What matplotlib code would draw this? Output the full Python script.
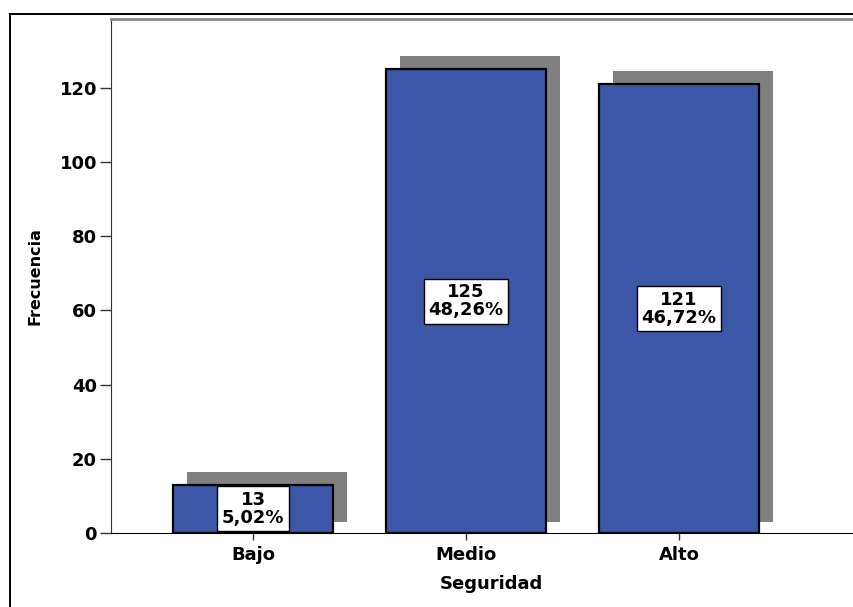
import matplotlib.pyplot as plt
from matplotlib.patches import Rectangle

# ==============================
# DATOS
# ==============================
categorias = ["Bajo", "Medio", "Alto"]
frecuencias = [13, 125, 121]
ticks_y = [0, 20, 40, 60, 80, 100, 120]

AZUL = "#3c56a8"
SOMBRA = "#808080"

plt.rcParams["font.family"] = ["DejaVu Sans"]
plt.rcParams["font.weight"] = "bold"

total = sum(frecuencias)
porcentajes = [f / total * 100 for f in frecuencias]

# ==============================
# FIGURA
# ==============================
fig = plt.figure(figsize=(8.54, 6.07), dpi=100)
W, H = 854, 607

# marco exterior
fig.patches.append(Rectangle((10 / W, -0.1), 1.0, 1 - 14 / H + 0.1,
                             transform=fig.transFigure, fill=False,
                             edgecolor="black", linewidth=1.4))

ax = fig.add_axes([111 / W, (H - 533) / H, 760 / W, (533 - 19) / H])

ancho = 0.75
dx, dy0, dy1 = 0.066, 3.0, 3.5
for i, f in enumerate(frecuencias):
    # sombra desplazada
    ax.add_patch(Rectangle((i - ancho / 2 + dx, dy0), ancho, f + dy1 - dy0,
                           facecolor=SOMBRA, edgecolor="none", zorder=1))
ax.bar(range(len(categorias)), frecuencias, width=ancho, color=AZUL,
       edgecolor="black", linewidth=1.6, zorder=2)

for i, (f, p) in enumerate(zip(frecuencias, porcentajes)):
    etiqueta = f"{f}\n{p:.2f}%".replace(".", ",")
    ax.text(i, f / 2, etiqueta, ha="center", va="center", fontsize=13,
            fontweight="bold", linespacing=1.0, zorder=4,
            bbox=dict(boxstyle="square,pad=0.25", facecolor="white",
                      edgecolor="black", linewidth=1.0))

ax.set_xlim(-0.667, -0.667 + 760 / 213)
ax.set_ylim(0, 138.6)
ax.set_yticks(ticks_y)
ax.set_xticks(range(len(categorias)))
ax.set_xticklabels(categorias)

ax.tick_params(axis="y", length=8, width=1, color="#333333", labelsize=13, pad=2)
ax.tick_params(axis="x", length=5, width=1, color="#333333", labelsize=13, pad=4)

ax.spines["right"].set_visible(False)
ax.spines["top"].set_color("#888888")
ax.spines["top"].set_linewidth(2)
ax.spines["left"].set_color("#333333")
ax.spines["bottom"].set_color("black")

ax.set_ylabel("Frecuencia", fontsize=11.5, fontweight="bold", labelpad=12)
ax.set_xlabel("Seguridad", fontsize=13, fontweight="bold", labelpad=8)

fig.savefig("out.png", dpi=100)
